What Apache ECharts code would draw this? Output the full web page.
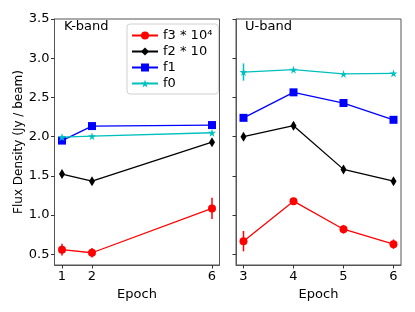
<!DOCTYPE html>
<html><head><meta charset="utf-8">
<script src="https://cdn.jsdelivr.net/npm/echarts@6/dist/echarts.min.js"></script>
<style>html,body{margin:0;padding:0;background:#fff}#c{width:415px;height:312px}</style>
</head><body><div id="c"></div>
<script>
const kEpochs = [1, 2, 6];
const uEpochs = [3, 4, 5, 6];
const yTicks = [0.5, 1.0, 1.5, 2.0, 2.5, 3.0, 3.5];
const names = ['f3 * 10\u2074', 'f2 * 10', 'f1', 'f0'];

const f3K = [0.56, 0.52, 1.085];
const f3KErr = [0.075, 0.06, 0.135];
const f3U = [0.668, 1.178, 0.82, 0.63];
const f3UErr = [0.13, 0.04, 0.055, 0.06];

const f2K = [1.523, 1.433, 1.93];
const f2KErr = [0.035, 0.035, 0.04];
const f2U = [2.0, 2.14, 1.583, 1.433];
const f2UErr = [0.035, 0.04, 0.04, 0.035];

const f1K = [1.95, 2.135, 2.148];
const f1KErr = [0.01, 0.01, 0.01];
const f1U = [2.24, 2.565, 2.429, 2.215];
const f1UErr = [0.01, 0.01, 0.01, 0.01];

const f0K = [1.995, 2.006, 2.05];
const f0KErr = [0.02, 0.01, 0.01];
const f0U = [2.824, 2.854, 2.80, 2.807];
const f0UErr = [0.11, 0.01, 0.01, 0.01];

const colors = ['#ff0000', '#000000', '#0000ff', '#00bfbf'];
const STAR = 'path://M50,0 L61,35 L98,35 L68,57 L79,91 L50,70 L21,91 L32,57 L2,35 L39,35 Z';
const symbols = ['circle', 'diamond', 'rect', STAR];
const symSizes = [8, [6, 10], 8, 8];

const sets = [
  [f3K, f3KErr, f3U, f3UErr],
  [f2K, f2KErr, f2U, f2UErr],
  [f1K, f1KErr, f1U, f1UErr],
  [f0K, f0KErr, f0U, f0UErr]
];

const spine = '#555';
const font = 'DejaVu Sans';

function xAxis(idx, ticks, min, max) {
  return {
    type: 'value', gridIndex: idx, min: min, max: max,
    name: 'Epoch', nameLocation: 'middle', nameGap: 19,
    nameTextStyle: {color: '#000', fontSize: 13, fontFamily: font},
    axisLine: {show: true, onZero: false, lineStyle: {color: spine}},
    axisTick: {show: true, length: 3.5, customValues: ticks, lineStyle: {color: '#333'}},
    axisLabel: {customValues: ticks, color: '#000', fontSize: 13, fontFamily: font, margin: 5},
    splitLine: {show: false}
  };
}
function yAxis(idx, showLabels) {
  return {
    type: 'value', gridIndex: idx, min: 0.364, max: 3.5,
    name: showLabels ? 'Flux Density (Jy / beam)' : '',
    nameLocation: 'middle', nameGap: 30,
    nameTextStyle: {color: '#000', fontSize: 12, fontFamily: font},
    axisLine: {show: true, onZero: false, lineStyle: {color: spine}},
    axisTick: {show: true, length: 3.5, customValues: yTicks, lineStyle: {color: '#333'}},
    axisLabel: {show: showLabels, customValues: yTicks, color: '#000', fontSize: 13, fontFamily: font, margin: 5,
      formatter: v => v.toFixed(1)},
    splitLine: {show: false}
  };
}

const series = [];
sets.forEach((s, i) => {
  [[kEpochs, s[0], s[1], 0], [uEpochs, s[2], s[3], 1]].forEach(([xs, ys, es, g]) => {
    series.push({
      type: 'custom', name: 'err' + i + '_' + g, xAxisIndex: g, yAxisIndex: g, z: 2 + i,
      data: xs.map((x, j) => [x, ys[j] - es[j], ys[j] + es[j]]),
      renderItem: (params, api) => {
        const p1 = api.coord([api.value(0), api.value(1)]);
        const p2 = api.coord([api.value(0), api.value(2)]);
        return {type: 'line', shape: {x1: p1[0], y1: p1[1], x2: p2[0], y2: p2[1]},
          style: {stroke: colors[i], lineWidth: 1.5}};
      },
      silent: true
    });
    series.push({
      type: 'line', name: names[i], xAxisIndex: g, yAxisIndex: g, z: 3 + i,
      data: xs.map((x, j) => [x, ys[j]]),
      symbol: symbols[i], symbolSize: symSizes[i], showAllSymbol: true,
      lineStyle: {color: colors[i], width: 1.3},
      itemStyle: {color: colors[i]},
      animation: false
    });
  });
});

const chart = echarts.init(document.getElementById('c'), null, {renderer: 'canvas'});
chart.setOption({
  animation: false,
  backgroundColor: '#fff',
  grid: [
    {left: 54.5, top: 19, width: 165, height: 246, show: true, borderColor: spine, borderWidth: 1},
    {left: 236, top: 19, width: 165, height: 246, show: true, borderColor: spine, borderWidth: 1}
  ],
  xAxis: [xAxis(0, kEpochs, 0.75, 6.25), xAxis(1, uEpochs, 2.85, 6.15)],
  yAxis: [yAxis(0, true), yAxis(1, false)],
  legend: {
    data: names, orient: 'vertical', left: 127, top: 24,
    padding: [5, 6, 4, 4], itemGap: 3, itemWidth: 26, itemHeight: 10,
    borderColor: '#d0d0d0', borderWidth: 1, borderRadius: 3,
    backgroundColor: 'rgba(255,255,255,0.8)',
    textStyle: {color: '#000', fontSize: 13, fontFamily: font}
  },
  graphic: [
    {type: 'text', left: 64, top: 20, style: {text: 'K-band', fontSize: 13, fontFamily: font, fill: '#000'}},
    {type: 'text', left: 245, top: 20, style: {text: 'U-band', fontSize: 13, fontFamily: font, fill: '#000'}}
  ],
  series: series
});
</script></body></html>
